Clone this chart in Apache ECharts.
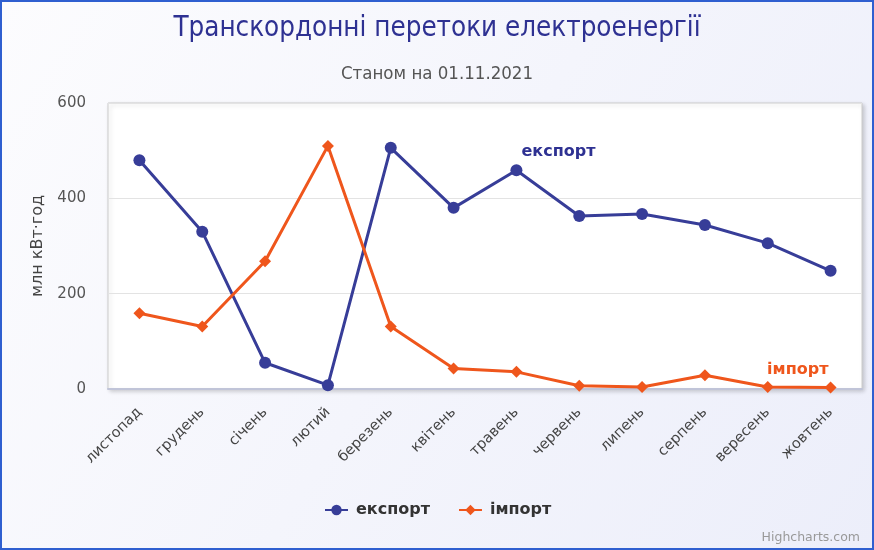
<!DOCTYPE html>
<html>
<head>
<meta charset="utf-8">
<script src="https://cdn.jsdelivr.net/npm/echarts@6/dist/echarts.min.js"></script>
<style>
html,body{margin:0;padding:0;}
#c{width:874px;height:550px;}
</style>
</head>
<body>
<div id="c"></div>
<script>
const categories = ['листопад','грудень','січень','лютий','березень','квітень','травень','червень','липень','серпень','вересень','жовтень'];
const exportValues = [480, 330, 55, 8, 506, 380, 459, 363, 367, 344, 306, 248];
const importValues = [159, 131, 268, 510, 131, 43, 36, 7, 4, 29, 4, 3];
const yTicks = [0, 200, 400, 600];
const exportLabelIndex = 6;
const importLabelIndex = 10;

const exportColor = '#373d98';
const importColor = '#ef561c';

function buildData(vals, labelIdx, label) {
  return vals.map((v, i) => i === labelIdx ? {value: v, label: label} : v);
}

const chart = echarts.init(document.getElementById('c'));
chart.setOption({
  backgroundColor: {
    type: 'linear', x: 0, y: 0, x2: 1, y2: 1,
    colorStops: [{offset: 0, color: '#fcfcfe'}, {offset: 1, color: '#eceefa'}]
  },
  animation: false,
  title: [{
    text: 'Транскордонні перетоки електроенергії',
    left: 'center', top: 10,
    textStyle: {fontFamily: 'DejaVu Sans Condensed', fontSize: 27.5, fontWeight: 'normal', color: '#2e3192'}
  }, {
    text: 'Станом на 01.11.2021',
    left: 'center', top: 60,
    textStyle: {fontFamily: 'DejaVu Sans Condensed', fontSize: 18.5, fontWeight: 'normal', color: '#555555'}
  }],
  legend: {
    top: 497, left: 319, itemGap: 28, itemWidth: 23, itemHeight: 13,
    textStyle: {fontFamily: 'DejaVu Sans', fontSize: 16, fontWeight: 'bold', color: '#333333', padding: [0, 0, 0, 3]},
    data: ['експорт', 'імпорт']
  },
  grid: {
    left: 108, right: 12, top: 103, bottom: 161,
    show: true, backgroundColor: '#ffffff', borderColor: '#cccccc', borderWidth: 1,
    shadowColor: 'rgba(0,0,0,0.18)', shadowBlur: 4, shadowOffsetX: 2, shadowOffsetY: 2
  },
  xAxis: {
    type: 'category', data: categories, boundaryGap: true,
    axisLine: {lineStyle: {color: '#c0c4d8', width: 2}},
    axisTick: {show: false},
    axisLabel: {rotate: 45, margin: 21, fontFamily: 'DejaVu Sans', fontSize: 14.5, color: '#444444'}
  },
  yAxis: {
    type: 'value', min: yTicks[0], max: yTicks[yTicks.length - 1], interval: 200,
    name: 'млн кВт·год', nameLocation: 'middle', nameGap: 62, nameRotate: 90,
    nameTextStyle: {fontFamily: 'DejaVu Sans', fontSize: 16, color: '#444444'},
    axisLine: {show: false}, axisTick: {show: false},
    axisLabel: {margin: 22, fontFamily: 'DejaVu Sans', fontSize: 15, color: '#555555'},
    splitLine: {lineStyle: {color: '#e3e3e3'}}
  },
  series: [{
    name: 'експорт', type: 'line', color: exportColor,
    data: buildData(exportValues, exportLabelIndex, {
      show: true, formatter: '{a}', position: 'top', offset: [42, 1],
      fontFamily: 'DejaVu Sans', fontSize: 16, fontWeight: 'bold', color: '#2e3192'
    }),
    symbol: 'circle', symbolSize: 12,
    lineStyle: {width: 3},
    itemStyle: {color: exportColor}
  }, {
    name: 'імпорт', type: 'line', color: importColor,
    data: buildData(importValues, importLabelIndex, {
      show: true, formatter: '{a}', position: 'top', offset: [30, 2],
      fontFamily: 'DejaVu Sans', fontSize: 16, fontWeight: 'bold', color: importColor
    }),
    symbol: 'diamond', symbolSize: 12,
    lineStyle: {width: 3},
    itemStyle: {color: importColor}
  }],
  graphic: [{
    type: 'rect', shape: {x: 1, y: 1, width: 872, height: 548},
    style: {fill: 'none', stroke: '#2f5fd0', lineWidth: 2}, silent: true
  }, {
    type: 'text', right: 14, bottom: 6,
    style: {text: 'Highcharts.com', fontFamily: 'DejaVu Sans', fontSize: 12.5, fill: '#999999'}
  }]
});
</script>
</body>
</html>
